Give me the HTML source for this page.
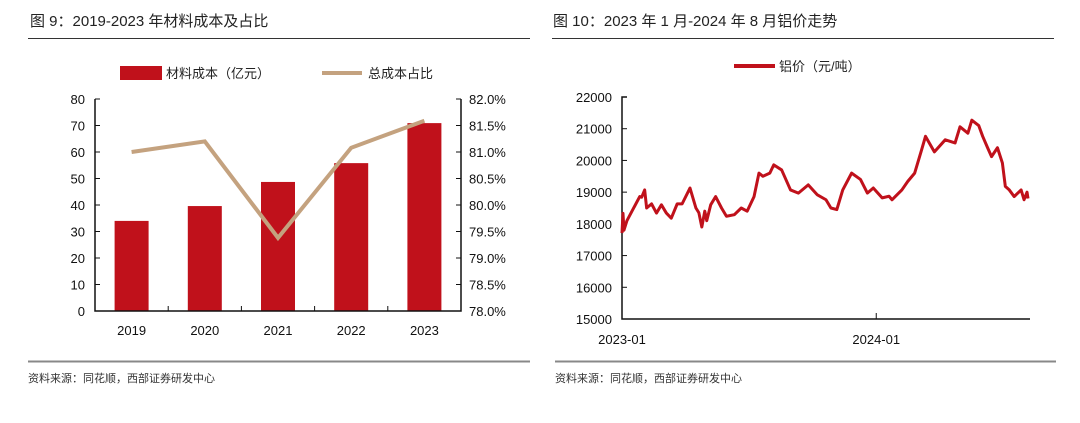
<!DOCTYPE html>
<html><head><meta charset="utf-8"><style>
body{margin:0;background:#fff;width:1080px;height:418px;overflow:hidden;font-family:"Liberation Sans","Noto Sans CJK SC",sans-serif;}
svg text{font-family:"Liberation Sans","Noto Sans CJK SC",sans-serif;}
</style></head><body>
<svg id="s" width="1080" height="418">
<text x="30" y="26" font-size="15" fill="#222">图 9：2019-2023 年材料成本及占比</text>
<line x1="28" y1="38.5" x2="530" y2="38.5" stroke="#333"/>
<text x="553" y="26" font-size="15" fill="#222">图 10：2023 年 1 月-2024 年 8 月铝价走势</text>
<line x1="552" y1="38.5" x2="1054" y2="38.5" stroke="#333"/>
<line x1="28" y1="361.5" x2="530" y2="361.5" stroke="#888" stroke-width="2"/>
<line x1="555" y1="361.5" x2="1056" y2="361.5" stroke="#888" stroke-width="2"/>
<text x="28" y="382" font-size="11" fill="#333">资料来源：同花顺，西部证券研发中心</text>
<text x="555" y="382" font-size="11" fill="#333">资料来源：同花顺，西部证券研发中心</text>
<g>
<rect x="120" y="66" width="42" height="14" fill="#c0111b"/>
<text x="166" y="78" font-size="13" fill="#222">材料成本（亿元）</text>
<line x1="322" y1="73" x2="362" y2="73" stroke="#c4a27f" stroke-width="4"/>
<text x="368" y="78" font-size="13" fill="#222">总成本占比</text>
</g>
<g>
<line x1="734" y1="66" x2="775" y2="66" stroke="#c0111b" stroke-width="4"/>
<text x="779" y="71" font-size="13" fill="#222">铝价（元/吨）</text>
</g>
<g id="L"></g><g id="R"></g>
</svg>
<script>
const years=["2019","2020","2021","2022","2023"];
const cost=[34,39.6,48.7,55.8,70.9];
const share=[81.0,81.2,79.38,81.08,81.59];
const leftTicks=[0,10,20,30,40,50,60,70,80];
const rightTicks=[78.0,78.5,79.0,79.5,80.0,80.5,81.0,81.5,82.0];
const priceT=[0,0.1,0.2,0.5,1.8,2.0,2.3,2.5,3.0,3.5,4.0,4.5,5.0,5.6,6.1,6.9,7.5,7.8,8.1,8.4,8.6,9.0,9.5,10.1,10.6,11.4,12.1,12.7,13.4,13.9,14.3,15.0,15.4,16.2,17.1,17.9,18.9,19.8,20.7,21.2,21.8,22.4,23.3,24.2,24.9,25.5,26.4,27.1,27.4,28.4,29.0,29.7,30.4,30.8,31.7,32.8,33.8,34.3,35.1,35.5,36.2,36.6,37.1,37.5,38.1,38.6,38.9,39.3,39.8,40.5,40.8,41.1,41.2];
const priceV=[17710,18330,17800,18100,18860,18840,19070,18500,18630,18340,18600,18340,18180,18630,18630,19130,18500,18350,17900,18400,18100,18600,18860,18500,18240,18290,18500,18400,18860,19600,19500,19600,19860,19700,19070,18970,19230,18920,18760,18500,18450,19070,19600,19400,18970,19130,18820,18870,18760,19070,19340,19600,20330,20760,20270,20650,20550,21060,20860,21270,21100,20760,20400,20120,20400,19920,19180,19070,18860,19070,18760,19000,18800];
const priceTicks=[15000,16000,17000,18000,19000,20000,21000,22000];
const xLabels=["2023-01","2024-01"];
const xLabelT=[0,25.8];
const NS="http://www.w3.org/2000/svg";
function mk(p,t,a){const e=document.createElementNS(NS,t);for(const k in a)e.setAttribute(k,a[k]);p.appendChild(e);return e;}
const L=document.getElementById('L');
const x0=95,x1=461,yB=311,yT=99;
const yl=v=>yB-(v/80)*(yB-yT);
const yr=v=>yB-((v-78)/4)*(yB-yT);
const cw=(x1-x0)/years.length;
const cx=i=>x0+cw*(i+0.5);
cost.forEach((v,i)=>{const r=mk(L,'rect',{x:cx(i)-17,y:yl(v),width:34,height:yB-yl(v),fill:'#c0111b'});

});
let ax=mk(L,'path',{d:`M${x0} ${yT}V${yB}H${x1}V${yT}`,stroke:'#111','stroke-width':1.5,fill:'none'});


leftTicks.forEach(v=>{mk(L,'line',{x1:x0,x2:x0+5,y1:yl(v),y2:yl(v),stroke:'#111'});
const t=mk(L,'text',{x:x0-10,y:yl(v)+5,'font-size':13,'text-anchor':'end',fill:'#111'});t.textContent=v;

});
rightTicks.forEach(v=>{mk(L,'line',{x1:x1-5,x2:x1,y1:yr(v),y2:yr(v),stroke:'#111'});
const t=mk(L,'text',{x:x1+8,y:yr(v)+5,'font-size':13,fill:'#111'});t.textContent=v.toFixed(1)+'%';

});
years.forEach((y,i)=>{if(i>0)mk(L,'line',{x1:x0+cw*i,x2:x0+cw*i,y1:yB,y2:yB-5,stroke:'#111'});
const t=mk(L,'text',{x:cx(i),y:yB+24,'font-size':13,'text-anchor':'middle',fill:'#111'});t.textContent=y;

});
const sl=mk(L,'polyline',{points:share.map((v,i)=>cx(i)+','+yr(v)).join(' '),fill:'none',stroke:'#c4a27f','stroke-width':4});


const R=document.getElementById('R');
const rx0=622,rx1=1030,ryB=319,ryT=97,tMax=41.2;
const px=t=>rx0+t/tMax*(1028-rx0);
const py=v=>ryB-(v-15000)/7000*(ryB-ryT);
const ra=mk(R,'path',{d:`M${rx0+5} ${ryT}H${rx0}V${ryB}H${rx1}`,stroke:'#111','stroke-width':1.5,fill:'none'});


priceTicks.forEach(v=>{mk(R,'line',{x1:rx0,x2:rx0+5,y1:py(v),y2:py(v),stroke:'#111'});
const t=mk(R,'text',{x:rx0-10,y:py(v)+5,'font-size':13,'text-anchor':'end',fill:'#111'});t.textContent=v;

});
xLabels.forEach((l,i)=>{const x=px(xLabelT[i]);mk(R,'line',{x1:x,x2:x,y1:ryB,y2:ryB-6,stroke:'#111'});
const t=mk(R,'text',{x:x,y:ryB+25,'font-size':13,'text-anchor':'middle',fill:'#111'});t.textContent=l;

});
const pl=mk(R,'polyline',{points:priceT.map((t,i)=>px(t)+','+py(priceV[i])).join(' '),fill:'none',stroke:'#c0111b','stroke-width':3,'stroke-linejoin':'round'});


</script>
</body></html>
